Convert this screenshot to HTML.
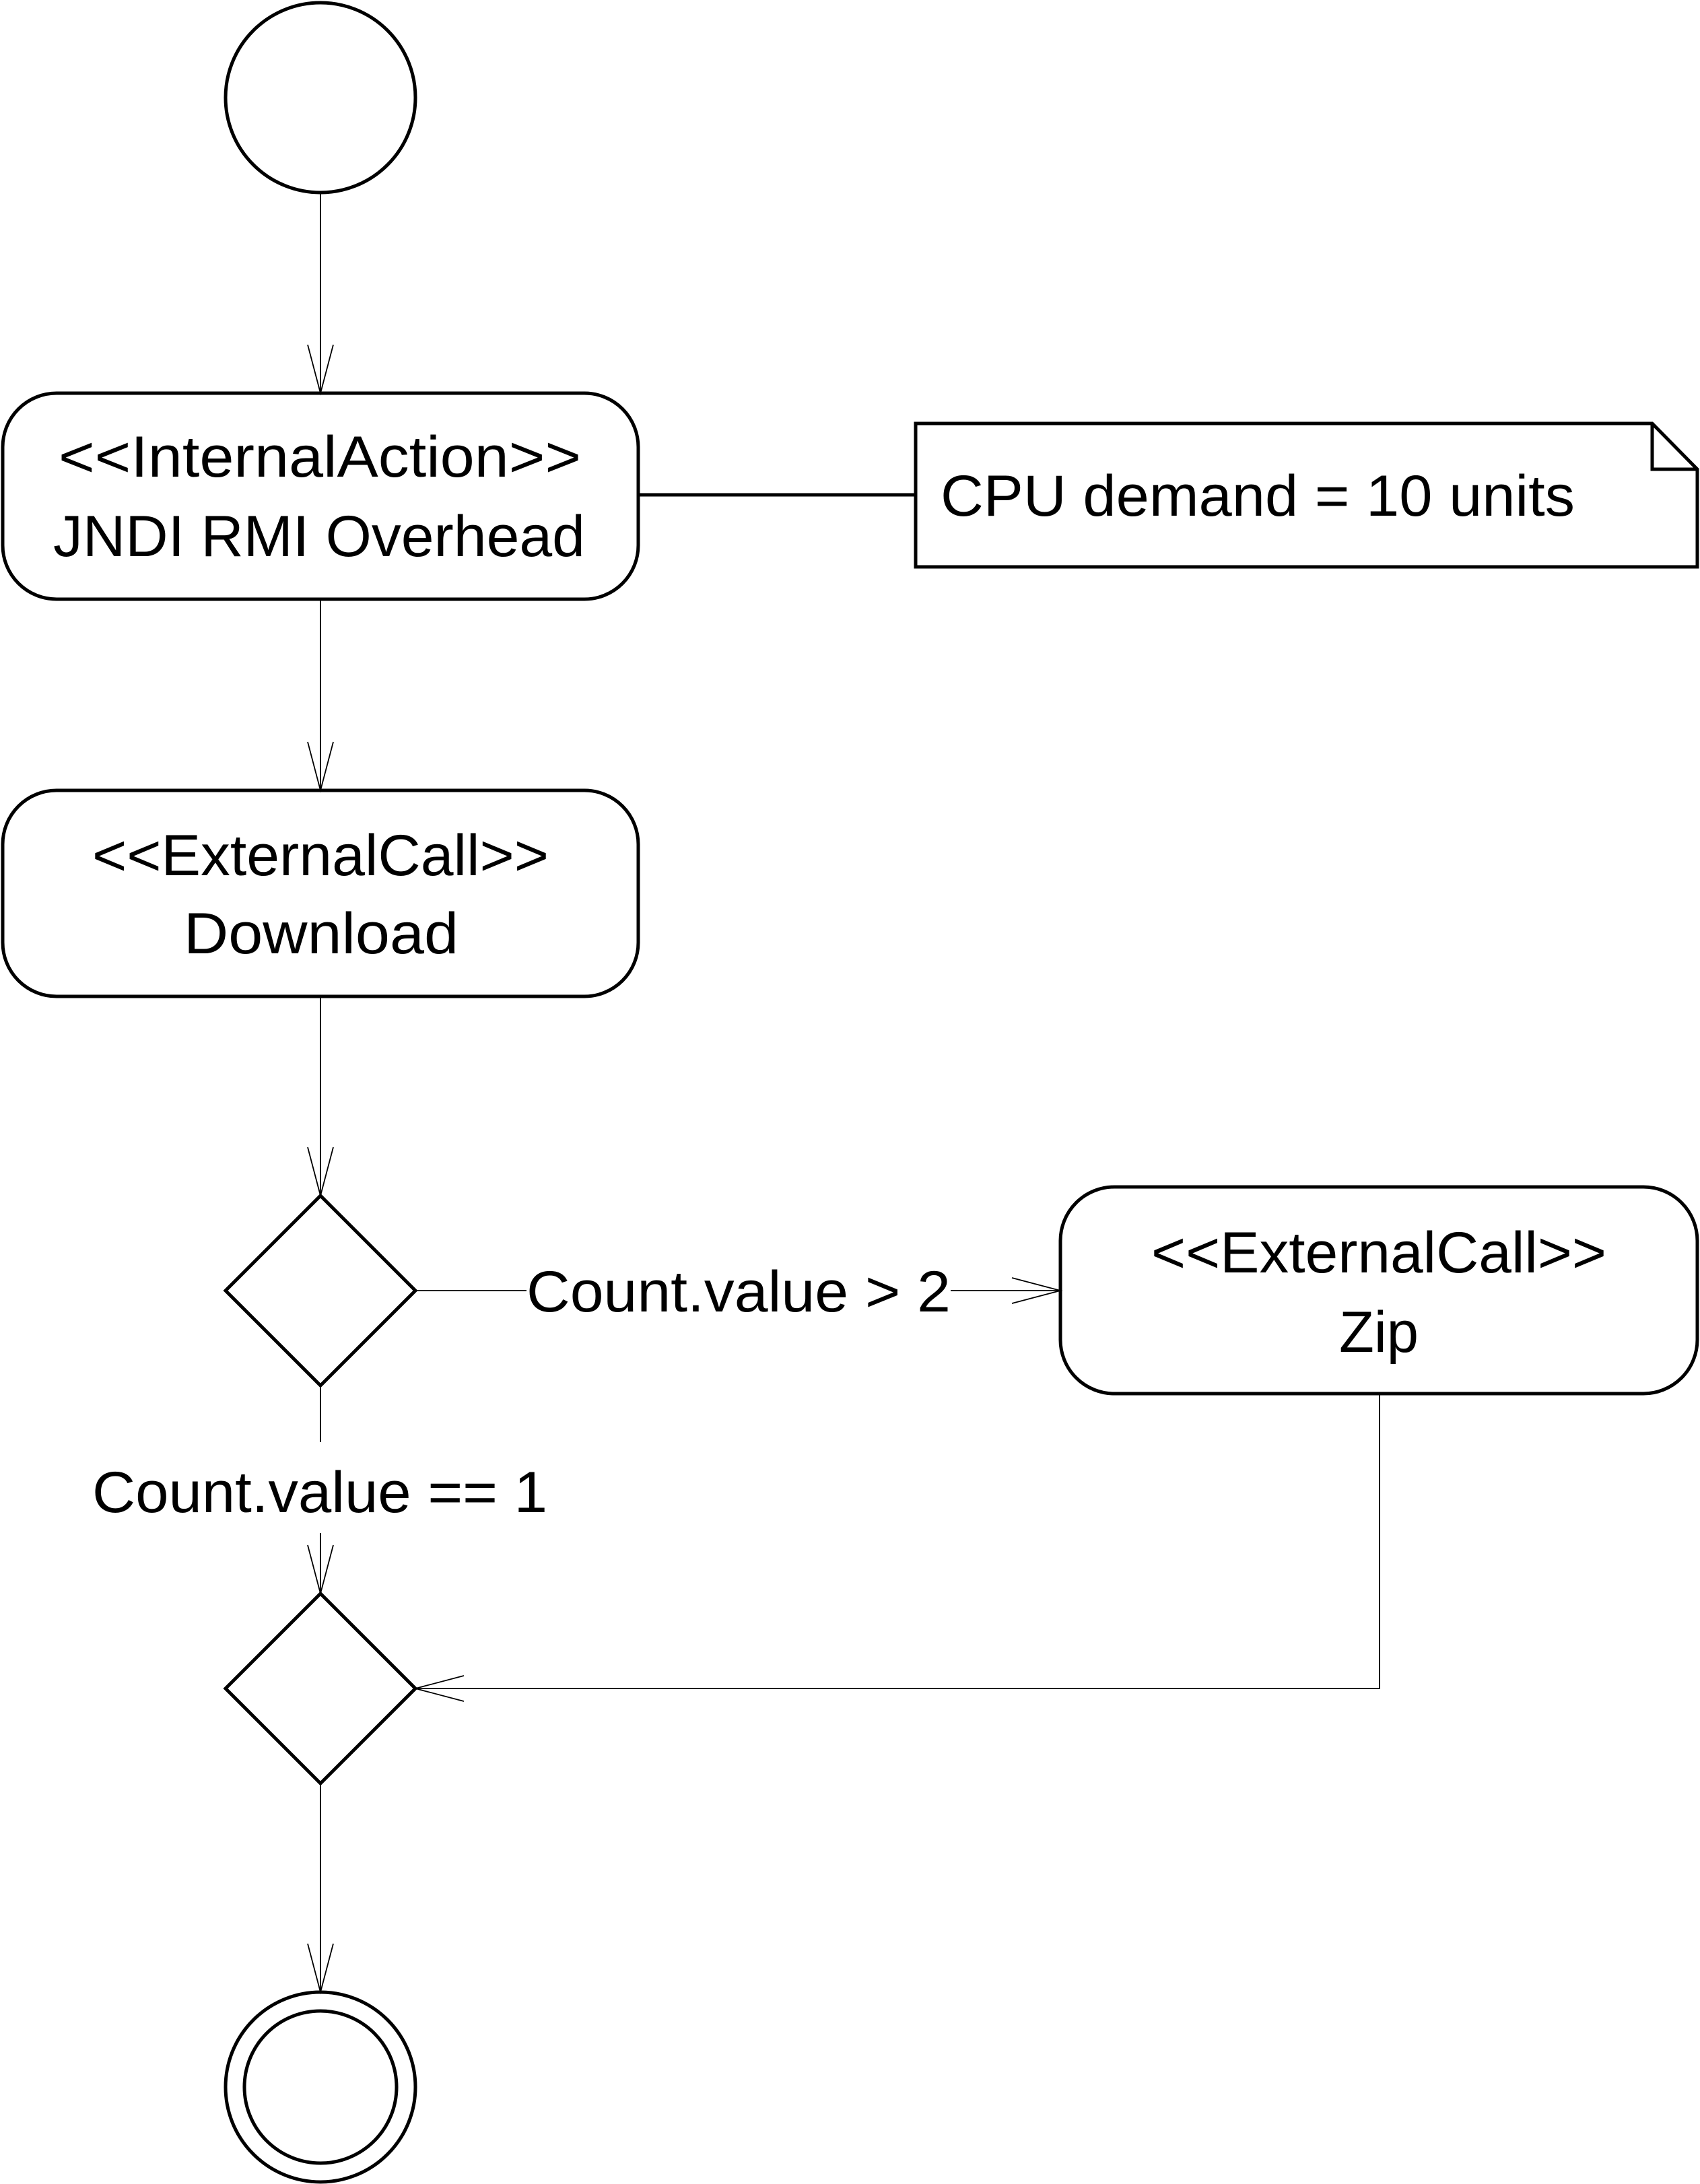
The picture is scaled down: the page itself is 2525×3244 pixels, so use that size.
<!DOCTYPE html>
<html><head><style>html,body{margin:0;padding:0;background:#fff}svg{display:block}</style></head>
<body>
<svg width="2525" height="3244" viewBox="0 0 2525 3244" xmlns="http://www.w3.org/2000/svg" font-family="'Liberation Sans', sans-serif" font-size="86" fill="#000">
<g fill="none" stroke="#000" stroke-width="5">
<circle cx="476" cy="145" r="141"/>
<rect x="4" y="584" width="944" height="306" rx="80"/>
<path d="M1360 629 H2454 L2521 697 V842 H1360 Z"/>
<path d="M2454 629 V697 H2521"/>
<line x1="948" y1="735" x2="1360" y2="735"/>
<rect x="4" y="1174" width="944" height="306" rx="80"/>
<path d="M476 1776 L617 1917 L476 2058 L335 1917 Z"/>
<rect x="1575" y="1763" width="946" height="307" rx="80"/>
<path d="M476 2367 L617 2508 L476 2649 L335 2508 Z"/>
<circle cx="476" cy="3100" r="141"/>
<circle cx="476" cy="3100" r="113"/>
</g>
<g fill="none" stroke="#000" stroke-width="1.8">
<line x1="476" y1="286" x2="476" y2="584"/>
<path d="M457 512 L476 584 L495 512"/>
<line x1="476" y1="890" x2="476" y2="1174"/>
<path d="M457 1102 L476 1174 L495 1102"/>
<line x1="476" y1="1480" x2="476" y2="1776"/>
<path d="M457 1704 L476 1776 L495 1704"/>
<line x1="617" y1="1917" x2="782" y2="1917"/>
<line x1="1412" y1="1917" x2="1575" y2="1917"/>
<path d="M1503 1898 L1575 1917 L1503 1936"/>
<line x1="476" y1="2058" x2="476" y2="2142"/>
<line x1="476" y1="2277" x2="476" y2="2367"/>
<path d="M457 2295 L476 2367 L495 2295"/>
<path d="M2049 2070 V2508 H617"/>
<path d="M689 2489 L617 2508 L689 2527"/>
<line x1="476" y1="2649" x2="476" y2="2959"/>
<path d="M457 2887 L476 2959 L495 2887"/>
</g>
<g text-anchor="middle">
<text x="475" y="708" textLength="776" lengthAdjust="spacingAndGlyphs">&lt;&lt;InternalAction&gt;&gt;</text>
<text x="474" y="826" textLength="790" lengthAdjust="spacingAndGlyphs">JNDI RMI Overhead</text>
<text x="476" y="1300" textLength="678" lengthAdjust="spacingAndGlyphs">&lt;&lt;ExternalCall&gt;&gt;</text>
<text x="477" y="1416" textLength="408" lengthAdjust="spacingAndGlyphs">Download</text>
<text x="2048" y="1890" textLength="676" lengthAdjust="spacingAndGlyphs">&lt;&lt;ExternalCall&gt;&gt;</text>
<text x="2048" y="2008" textLength="118" lengthAdjust="spacingAndGlyphs">Zip</text>
<text x="1868" y="766" textLength="942" lengthAdjust="spacingAndGlyphs">CPU demand = 10 units</text>
<text x="1097" y="1948" textLength="630" lengthAdjust="spacingAndGlyphs">Count.value &gt; 2</text>
<text x="475" y="2246" textLength="676" lengthAdjust="spacingAndGlyphs">Count.value == 1</text>
</g>
</svg>
</body></html>
